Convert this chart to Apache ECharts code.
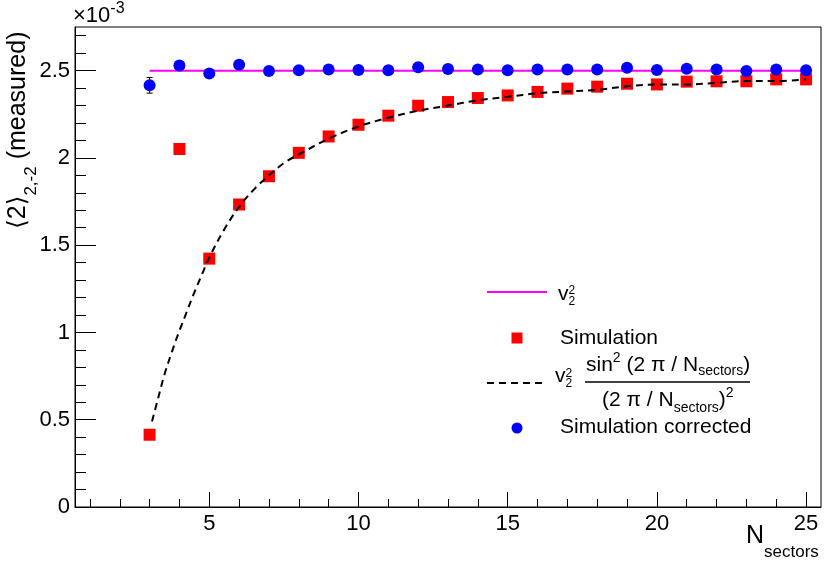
<!DOCTYPE html>
<html>
<head>
<meta charset="utf-8">
<script src="https://cdn.jsdelivr.net/npm/echarts@6/dist/echarts.min.js"></script>
<style>
  html, body { margin: 0; padding: 0; background: #fff; }
  #chart { width: 830px; height: 563px; }
</style>
</head>
<body>
<div id="chart"></div>
<script>
// ---------------- data (values in units of 1e-3) ----------------
const nSectors = [3, 4, 5, 6, 7, 8, 9, 10, 11, 12, 13, 14, 15, 16, 17, 18, 19, 20, 21, 22, 23, 24, 25];
const simulation = [0.414, 2.051, 1.423, 1.733, 1.895, 2.029, 2.123, 2.190, 2.242, 2.299, 2.320, 2.343,
                    2.358, 2.378, 2.397, 2.408, 2.425, 2.421, 2.437, 2.439, 2.439, 2.450, 2.450];
const simulationCorrected = [2.416, 2.530, 2.483, 2.534, 2.498, 2.502, 2.506, 2.504, 2.502, 2.519, 2.510, 2.506,
                             2.502, 2.506, 2.506, 2.506, 2.517, 2.504, 2.511, 2.506, 2.498, 2.506, 2.502];
const correctedErr = [0.045, 0.01, 0.01, 0.01, 0.01, 0.01, 0.01, 0.01, 0.01, 0.01, 0.01, 0.01,
                      0.01, 0.01, 0.01, 0.01, 0.01, 0.01, 0.01, 0.01, 0.01, 0.01, 0.01];
const v2sqX = [3, 25];
const v2sqY = [2.5, 2.5];
const curveX = [3.08, 3.25, 3.5, 3.75, 4, 4.25, 4.5, 4.75, 5, 5.5, 6, 6.5, 7, 7.5, 8, 9, 10, 11, 12, 13, 14,
                15, 16, 17, 18, 19, 20, 21, 22, 23, 24, 25];
const curveY = [0.49, 0.60, 0.76, 0.89, 1.01, 1.12, 1.23, 1.33, 1.43, 1.59, 1.72, 1.82, 1.90, 1.97, 2.02, 2.11,
                2.18, 2.23, 2.27, 2.30, 2.33, 2.35, 2.37, 2.38, 2.39, 2.41, 2.42, 2.42, 2.43, 2.44, 2.44, 2.45];
const xTickLabels = [5, 10, 15, 20, 25];
const yTickLabels = [0, 0.5, 1, 1.5, 2, 2.5];
const xMinorTicks = [1,2,3,4,5,6,7,8,9,10,11,12,13,14,15,16,17,18,19,20,21,22,23,24,25];
const yMinorTicks = [0.1,0.2,0.3,0.4,0.6,0.7,0.8,0.9,1.1,1.2,1.3,1.4,1.6,1.7,1.8,1.9,2.1,2.2,2.3,2.4,2.6,2.7];

// ---------------- text layout helpers ----------------
const FONT = '"Liberation Sans", "DejaVu Sans", Arial, sans-serif';
const mctx = document.createElement('canvas').getContext('2d');
function tw(t, s) { mctx.font = s + 'px ' + FONT; return mctx.measureText(t).width; }
function seg(t, x, baseline, s) {
  return { type: 'text', x: x, y: baseline - 0.35 * s, silent: true,
    style: { text: t, fontSize: s, fontFamily: FONT, fill: '#000', align: 'left', verticalAlign: 'middle' } };
}
function flow(parts, x0, baseline) {
  let x = x0; const out = [];
  parts.forEach(p => {
    out.push(seg(p.t, x, baseline + (p.dy || 0), p.s));
    if (!p.keep) x += tw(p.t, p.s);
  });
  return out;
}

const graphics = [];
// exponent label
flow([{ t: '\u00d710', s: 22 }, { t: '-3', s: 16, dy: -10 }], 73, 24).forEach(e => graphics.push(e));
// y-axis title (rotated)
graphics.push({ type: 'group', x: 26.5, y: 229, rotation: Math.PI / 2,
  children: flow([{ t: '\u27e82\u27e9', s: 25 }, { t: '2,-2', s: 17, dy: 10.5 }, { t: ' (measured)', s: 25 }], 0, 0) });
// x-axis title
flow([{ t: 'N', s: 25 }, { t: 'sectors', s: 17, dy: 13.5 }], 746, 545).forEach(e => graphics.push(e));

// legend
graphics.push({ type: 'line', silent: true, shape: { x1: 487, y1: 292, x2: 547, y2: 292 },
  style: { stroke: '#ff00ff', lineWidth: 2 } });
flow([{ t: 'v', s: 21 }, { t: '2', s: 12, dy: -7, keep: true }, { t: '2', s: 12, dy: 4 }], 558, 302).forEach(e => graphics.push(e));

graphics.push({ type: 'rect', silent: true, shape: { x: 511.5, y: 332.5, width: 11, height: 11 }, style: { fill: '#ff0000' } });
graphics.push(seg('Simulation', 560, 346, 21));

graphics.push({ type: 'line', silent: true, shape: { x1: 487, y1: 383, x2: 547, y2: 383 },
  style: { stroke: '#000', lineWidth: 2, lineDash: [7, 5] } });
flow([{ t: 'v', s: 21 }, { t: '2', s: 12, dy: -6, keep: true }, { t: '2', s: 12, dy: 4 }], 555, 384).forEach(e => graphics.push(e));
graphics.push({ type: 'line', silent: true, shape: { x1: 585, y1: 382, x2: 750, y2: 382 }, style: { stroke: '#000', lineWidth: 1.6 } });
flow([{ t: 'sin', s: 21 }, { t: '2', s: 14, dy: -10 }, { t: ' (2 \u03c0 / N', s: 21 }, { t: 'sectors', s: 14, dy: 3 }, { t: ')', s: 21 }], 586, 373).forEach(e => graphics.push(e));
flow([{ t: '(2 \u03c0 / N', s: 21 }, { t: 'sectors', s: 14, dy: 5 }, { t: ')', s: 21 }, { t: '2', s: 14, dy: -10 }], 602, 408).forEach(e => graphics.push(e));

graphics.push({ type: 'circle', silent: true, shape: { cx: 517, cy: 428, r: 5.5 }, style: { fill: '#0000ff' } });
graphics.push(seg('Simulation corrected', 560, 435, 21));

// ---------------- chart ----------------
const zip = (a, b) => a.map((v, i) => [v, b[i]]);
const errData = nSectors.map((n, i) => [n, simulationCorrected[i] - correctedErr[i], simulationCorrected[i] + correctedErr[i]]);

const axisFont = { color: '#000', fontSize: 22, fontFamily: FONT };
const chart = echarts.init(document.getElementById('chart'), null, { renderer: 'canvas' });
chart.setOption({
  animation: false,
  backgroundColor: '#fff',
  grid: { left: 75, right: 9, top: 27, bottom: 56, show: true, borderColor: '#000', borderWidth: 1,
          backgroundColor: 'transparent', containLabel: false, outerBoundsMode: 'none' },
  xAxis: [
    { type: 'value', min: 0.5, max: 25.5, position: 'bottom',
      axisLine: { show: true, lineStyle: { color: '#000', width: 1 } },
      axisTick: { show: true, inside: true, length: 15, customValues: xTickLabels, lineStyle: { color: '#000', width: 1 } },
      axisLabel: Object.assign({ show: true, margin: 6, customValues: xTickLabels }, axisFont),
      splitLine: { show: false }, minorTick: { show: false } },
    { type: 'value', min: 0.5, max: 25.5, position: 'bottom', offset: 0,
      axisLine: { show: false },
      axisTick: { show: true, inside: true, length: 8, customValues: xMinorTicks, lineStyle: { color: '#000', width: 1 } },
      axisLabel: { show: false }, splitLine: { show: false } }
  ],
  yAxis: [
    { type: 'value', min: 0, max: 2.75, position: 'left',
      axisLine: { show: true, lineStyle: { color: '#000', width: 1 } },
      axisTick: { show: true, inside: true, length: 21, customValues: yTickLabels, lineStyle: { color: '#000', width: 1 } },
      axisLabel: Object.assign({ show: true, margin: 5, customValues: yTickLabels }, axisFont),
      splitLine: { show: false } },
    { type: 'value', min: 0, max: 2.75, position: 'left', offset: 0,
      axisLine: { show: false },
      axisTick: { show: true, inside: true, length: 11, customValues: yMinorTicks, lineStyle: { color: '#000', width: 1 } },
      axisLabel: { show: false }, splitLine: { show: false } }
  ],
  series: [
    { type: 'line', name: 'v2^2', data: zip(v2sqX, v2sqY), symbol: 'none', silent: true,
      lineStyle: { color: '#ff00ff', width: 2 }, z: 2 },
    { type: 'scatter', name: 'Simulation', data: zip(nSectors, simulation), symbol: 'rect', symbolSize: 12,
      itemStyle: { color: '#ff0000', opacity: 1 }, silent: true, z: 3 },
    { type: 'line', name: 'formula', data: zip(curveX, curveY), symbol: 'none', smooth: 0.35, silent: true,
      lineStyle: { color: '#000', width: 2, type: [7, 5] }, z: 4 },
    { type: 'custom', name: 'err', data: errData, silent: true, z: 5,
      renderItem: function (params, api) {
        const x = api.value(0);
        const p1 = api.coord([x, api.value(1)]);
        const p2 = api.coord([x, api.value(2)]);
        const st = { stroke: '#000', lineWidth: 1 };
        return { type: 'group', children: [
          { type: 'line', shape: { x1: p1[0], y1: p1[1], x2: p2[0], y2: p2[1] }, style: st },
          { type: 'line', shape: { x1: p1[0] - 3, y1: p1[1], x2: p1[0] + 3, y2: p1[1] }, style: st },
          { type: 'line', shape: { x1: p2[0] - 3, y1: p2[1], x2: p2[0] + 3, y2: p2[1] }, style: st }
        ] };
      } },
    { type: 'scatter', name: 'Simulation corrected', data: zip(nSectors, simulationCorrected), symbol: 'circle', symbolSize: 12,
      itemStyle: { color: '#0000ff', opacity: 1 }, silent: true, z: 6 }
  ],
  graphic: graphics
});
</script>
</body>
</html>
